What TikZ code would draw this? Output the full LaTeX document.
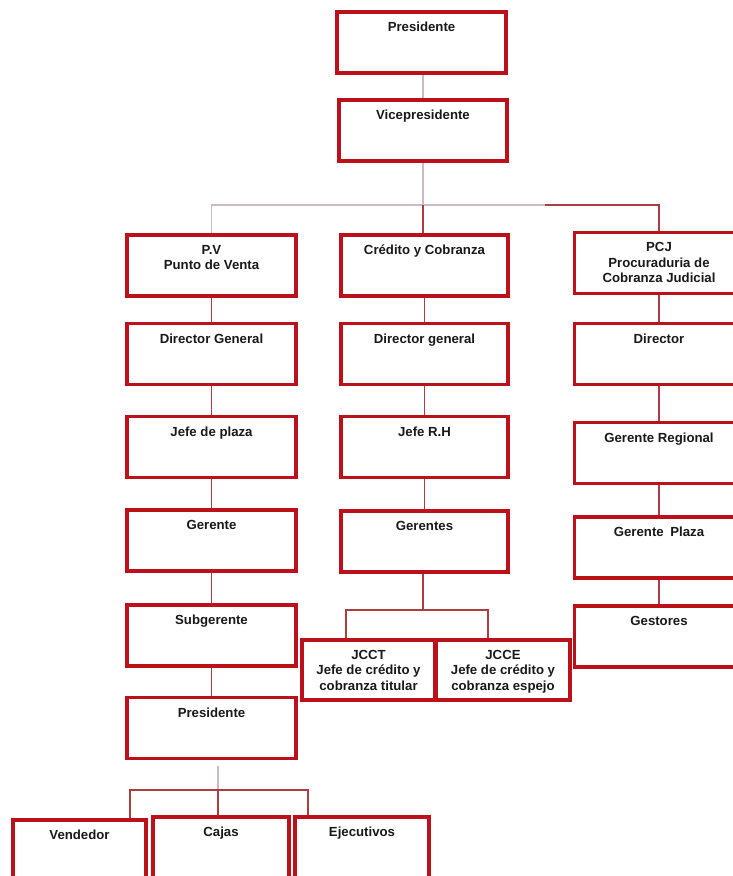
\documentclass[tikz,border=0pt]{standalone}
\usepackage{fontspec}
\setmainfont{Liberation Sans}
\usepackage{xcolor}
\definecolor{rojo}{RGB}{188,16,26}
\definecolor{granate}{RGB}{172,62,66}
\definecolor{gris}{RGB}{200,188,190}

\begin{document}
\begin{tikzpicture}[x=1pt, y=-1pt,
	caja/.style={draw=rojo, line width=3.2pt, minimum width=169pt, minimum height=61pt, inner sep=0pt},
	titulo/.style={anchor=north, yshift=-8pt, align=center, text=black!90, font=\fontsize{13.2}{15.6}\selectfont\bfseries},
	linea/.style={draw=granate, line width=1.9pt},
	tenue/.style={draw=gris, line width=1.9pt}]

\useasboundingbox (0,0) rectangle (733,876);
\fill[white] (0,0) rectangle (733,876);
\clip (0,0) rectangle (733,876);

\node[caja, label={[titulo]north:Presidente}] (pres) at (421.5,42.5) {};
\node[caja, minimum width=168pt, label={[titulo]north:Vicepresidente}] (vice) at (423,130.5) {};

\node[caja, label={[titulo]north:P.V\\Punto de Venta}] (pv) at (211.5,265.5) {};
\node[caja, label={[titulo]north:Director General}] (pvdir) at (211.5,354) {};
\node[caja, label={[titulo]north:Jefe de plaza}] (pvjefe) at (211.5,447) {};
\node[caja, label={[titulo]north:Gerente}] (pvger) at (211.5,540.5) {};
\node[caja, label={[titulo]north:Subgerente}] (pvsub) at (211.5,635.5) {};
\node[caja, label={[titulo]north:Presidente}] (pvpres) at (211.5,728) {};

\node[caja, minimum width=167pt, label={[titulo]north:Crédito y Cobranza}] (cc) at (424.5,265.5) {};
\node[caja, minimum width=167pt, label={[titulo]north:Director general}] (ccdir) at (424.5,354) {};
\node[caja, minimum width=167pt, label={[titulo]north:Jefe R.H}] (ccjefe) at (424.5,447) {};
\node[caja, minimum width=167pt, label={[titulo]north:Gerentes}] (ccger) at (424.5,541.5) {};
\node[caja, minimum width=133pt, minimum height=60pt, label={[titulo]north:JCCT\\Jefe de crédito y\\cobranza titular}] (jcct) at (368.5,670) {};
\node[caja, minimum width=134pt, minimum height=60pt, label={[titulo]north:JCCE\\Jefe de crédito y\\cobranza espejo}] (jcce) at (503,670) {};

\node[caja, label={[titulo]north:PCJ\\Procuraduria de\\Cobranza Judicial}] (pcj) at (659,263) {};
\node[caja, label={[titulo]north:Director}] (pcjdir) at (659,354) {};
\node[caja, label={[titulo]north:Gerente Regional}] (pcjreg) at (659,453) {};
\node[caja, label={[titulo]north:Gerente\enspace Plaza}] (pcjplaza) at (659,547.5) {};
\node[caja, label={[titulo]north:Gestores}] (gest) at (659,636.5) {};

\node[caja, minimum width=133pt, label={[titulo]north:Vendedor}] (vend) at (79.5,850.5) {};
\node[caja, minimum width=136pt, label={[titulo]north:Cajas}] (cajas) at (221,847.5) {};
\node[caja, minimum width=134pt, label={[titulo]north:Ejecutivos}] (ejec) at (362,847.5) {};

\coordinate (rama) at (423,205);
\coordinate (quiebre) at (545,205);
\coordinate (rj) at (423,610);
\coordinate (rb) at (218,790);

\draw[tenue] (vice.north) -- (vice.north |- pres.south);
\draw[tenue] (vice) -- (rama);
\draw[tenue] (rama) -| (pv.north);
\draw[tenue] (rama) -- (quiebre);
\draw[linea] (quiebre) -| (pcj.north);
\draw[linea] (rama) -- (rama |- cc.north);

\draw[linea] (pv) -- (pvdir);
\draw[linea] (pvdir) -- (pvjefe);
\draw[linea] (pvjefe) -- (pvger);
\draw[linea] (pvger) -- (pvsub);
\draw[linea] (pvsub) -- (pvpres);

\draw[linea] (cc) -- (ccdir);
\draw[linea] (ccdir) -- (ccjefe);
\draw[linea] (ccjefe) -- (ccger);
\draw[linea] (ccger.south -| rj) -- (rj);
\draw[linea] (rj) -| ([xshift=-22.5pt]jcct.north);
\draw[linea] (rj) -| ([xshift=-15pt]jcce.north);

\draw[linea] (pcj) -- (pcjdir);
\draw[linea] (pcjdir) -- (pcjreg);
\draw[linea] (pcjreg) -- (pcjplaza);
\draw[linea] (pcjplaza) -- (gest);

\draw[tenue] ([xshift=6.5pt, yshift=-6pt]pvpres.south) -- (rb);
\draw[linea] (rb) -| ([xshift=50.5pt]vend.north);
\draw[linea] (rb) -- (rb |- cajas.north);
\draw[linea] (rb) -| ([xshift=-54pt]ejec.north);
\end{tikzpicture}
\end{document}
